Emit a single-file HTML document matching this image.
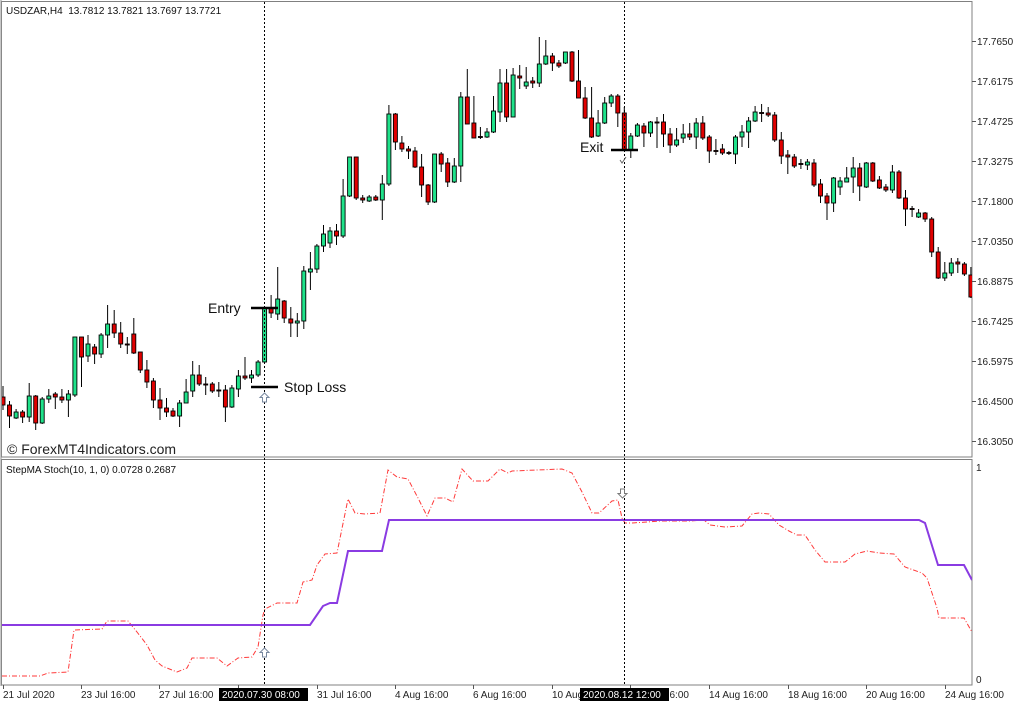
<!DOCTYPE html>
<html><head><meta charset="utf-8"><style>
html,body{margin:0;padding:0;background:#fff;}
svg{display:block;}
text{font-family:"Liberation Sans",sans-serif;}
.u{fill:#1fe28a;stroke:#000;stroke-width:0.9}
.d{fill:#e00000;stroke:#000;stroke-width:0.9}
</style></head><body>
<svg width="1024" height="705" viewBox="0 0 1024 705" xmlns="http://www.w3.org/2000/svg">
<rect width="1024" height="705" fill="#fff"/>
<defs><clipPath id="mc"><rect x="2" y="2" width="970" height="455"/></clipPath>
<clipPath id="ic"><rect x="2" y="460" width="970" height="225"/></clipPath></defs>

<!-- frames -->
<rect x="1.5" y="1.5" width="970.5" height="455.5" fill="none" stroke="#808080" stroke-width="1"/>
<rect x="1.5" y="459.5" width="970.5" height="225.5" fill="none" stroke="#808080" stroke-width="1"/>
<line x1="1" y1="0" x2="1" y2="686" stroke="#909090" stroke-width="1"/>

<!-- price axis -->
<g stroke="#555" stroke-width="1">
<line x1="972" y1="41.5" x2="976" y2="41.5"/><line x1="972" y1="81.5" x2="976" y2="81.5"/><line x1="972" y1="121.5" x2="976" y2="121.5"/><line x1="972" y1="161.5" x2="976" y2="161.5"/><line x1="972" y1="201.5" x2="976" y2="201.5"/><line x1="972" y1="241.5" x2="976" y2="241.5"/><line x1="972" y1="281.5" x2="976" y2="281.5"/><line x1="972" y1="321.5" x2="976" y2="321.5"/><line x1="972" y1="361.5" x2="976" y2="361.5"/><line x1="972" y1="401.5" x2="976" y2="401.5"/><line x1="972" y1="441.5" x2="976" y2="441.5"/>
</g>
<g font-size="10" fill="#222">
<text x="977" y="45">17.7650</text><text x="977" y="85">17.6175</text><text x="977" y="125">17.4725</text><text x="977" y="165">17.3275</text><text x="977" y="205">17.1800</text><text x="977" y="245">17.0350</text><text x="977" y="285">16.8875</text><text x="977" y="325">16.7425</text><text x="977" y="365">16.5975</text><text x="977" y="405">16.4500</text><text x="977" y="445">16.3050</text>
<text x="976" y="471">1</text><text x="976" y="683">0</text>
</g>

<!-- time axis -->
<g stroke="#555" stroke-width="1">
<line x1="3.5" y1="685" x2="3.5" y2="689"/><line x1="81.5" y1="685" x2="81.5" y2="689"/><line x1="159.5" y1="685" x2="159.5" y2="689"/><line x1="238.5" y1="685" x2="238.5" y2="689"/><line x1="317.5" y1="685" x2="317.5" y2="689"/><line x1="395.5" y1="685" x2="395.5" y2="689"/><line x1="473.5" y1="685" x2="473.5" y2="689"/><line x1="552.5" y1="685" x2="552.5" y2="689"/><line x1="630.5" y1="685" x2="630.5" y2="689"/><line x1="709.5" y1="685" x2="709.5" y2="689"/><line x1="788.5" y1="685" x2="788.5" y2="689"/><line x1="866.5" y1="685" x2="866.5" y2="689"/><line x1="945.5" y1="685" x2="945.5" y2="689"/>
</g>
<g font-size="10" fill="#222">
<text x="3" y="698">21 Jul 2020</text><text x="81" y="698">23 Jul 16:00</text><text x="159" y="698">27 Jul 16:00</text><text x="238" y="698">29 Jul 16:00</text><text x="317" y="698">31 Jul 16:00</text><text x="395" y="698">4 Aug 16:00</text><text x="473" y="698">6 Aug 16:00</text><text x="552" y="698">10 Aug 16:00</text><text x="630" y="698">12 Aug 16:00</text><text x="709" y="698">14 Aug 16:00</text><text x="788" y="698">18 Aug 16:00</text><text x="866" y="698">20 Aug 16:00</text><text x="945" y="698">24 Aug 16:00</text>
</g>
<rect x="219" y="688" width="89" height="13" fill="#000"/>
<text x="222" y="698" font-size="10" fill="#fff">2020.07.30 08:00</text>
<rect x="580" y="688" width="89" height="13" fill="#000"/>
<text x="583" y="698" font-size="10" fill="#fff">2020.08.12 12:00</text>

<!-- header texts -->
<text x="6" y="14" font-size="10" fill="#111">USDZAR,H4&#160; 13.7812 13.7821 13.7697 13.7721</text>
<text x="6" y="473" font-size="10" fill="#111">StepMA Stoch(10, 1, 0) 0.0728 0.2687</text>

<!-- candles -->
<g clip-path="url(#mc)">
<g stroke="#000" stroke-width="1">
<line x1="3.0" y1="386" x2="3.0" y2="410"/><line x1="9.5" y1="401" x2="9.5" y2="428"/><line x1="16.1" y1="409" x2="16.1" y2="419"/><line x1="22.6" y1="410" x2="22.6" y2="423"/><line x1="29.2" y1="383" x2="29.2" y2="422"/><line x1="35.7" y1="395" x2="35.7" y2="430"/><line x1="42.2" y1="397" x2="42.2" y2="424"/><line x1="48.8" y1="389" x2="48.8" y2="403"/><line x1="55.3" y1="392" x2="55.3" y2="409"/><line x1="61.9" y1="389" x2="61.9" y2="403"/>
<line x1="68.4" y1="390" x2="68.4" y2="417"/><line x1="74.9" y1="337" x2="74.9" y2="397"/><line x1="81.5" y1="337" x2="81.5" y2="387"/><line x1="88.0" y1="335" x2="88.0" y2="362"/><line x1="94.6" y1="344" x2="94.6" y2="364"/><line x1="101.1" y1="333" x2="101.1" y2="358"/><line x1="107.6" y1="305" x2="107.6" y2="348"/><line x1="114.2" y1="310" x2="114.2" y2="338"/><line x1="120.7" y1="322" x2="120.7" y2="348"/><line x1="127.3" y1="337" x2="127.3" y2="354"/>
<line x1="133.8" y1="318" x2="133.8" y2="354"/><line x1="140.3" y1="352" x2="140.3" y2="373"/><line x1="146.9" y1="360" x2="146.9" y2="388"/><line x1="153.4" y1="378" x2="153.4" y2="408"/><line x1="160.0" y1="388" x2="160.0" y2="420"/><line x1="166.5" y1="398" x2="166.5" y2="417"/><line x1="173.0" y1="408" x2="173.0" y2="417"/><line x1="179.6" y1="400" x2="179.6" y2="427"/><line x1="186.1" y1="379" x2="186.1" y2="403"/><line x1="192.7" y1="361" x2="192.7" y2="397"/>
<line x1="199.2" y1="365" x2="199.2" y2="386"/><line x1="205.7" y1="377" x2="205.7" y2="395"/><line x1="212.3" y1="382" x2="212.3" y2="393"/><line x1="218.8" y1="382" x2="218.8" y2="397"/><line x1="225.4" y1="385" x2="225.4" y2="422"/><line x1="231.9" y1="385" x2="231.9" y2="408"/><line x1="238.4" y1="370" x2="238.4" y2="397"/><line x1="245.0" y1="357" x2="245.0" y2="380"/><line x1="251.5" y1="370" x2="251.5" y2="383"/><line x1="258.1" y1="360" x2="258.1" y2="377"/>
<line x1="264.6" y1="307" x2="264.6" y2="363"/><line x1="271.1" y1="295" x2="271.1" y2="318"/><line x1="277.7" y1="267" x2="277.7" y2="320"/><line x1="284.2" y1="300" x2="284.2" y2="323"/><line x1="290.8" y1="307" x2="290.8" y2="337"/><line x1="297.3" y1="313" x2="297.3" y2="337"/><line x1="303.8" y1="266" x2="303.8" y2="329"/><line x1="310.4" y1="252" x2="310.4" y2="290"/><line x1="316.9" y1="244" x2="316.9" y2="273"/><line x1="323.5" y1="225" x2="323.5" y2="252"/>
<line x1="330.0" y1="227" x2="330.0" y2="248"/><line x1="336.5" y1="224" x2="336.5" y2="245"/><line x1="343.1" y1="179" x2="343.1" y2="238"/><line x1="349.6" y1="157" x2="349.6" y2="197"/><line x1="356.2" y1="157" x2="356.2" y2="200"/><line x1="362.7" y1="195" x2="362.7" y2="203"/><line x1="369.2" y1="195" x2="369.2" y2="202"/><line x1="375.8" y1="195" x2="375.8" y2="201"/><line x1="382.3" y1="175" x2="382.3" y2="220"/><line x1="388.9" y1="105" x2="388.9" y2="186"/>
<line x1="395.4" y1="113" x2="395.4" y2="150"/><line x1="401.9" y1="136" x2="401.9" y2="152"/><line x1="408.5" y1="146" x2="408.5" y2="159"/><line x1="415.0" y1="147" x2="415.0" y2="168"/><line x1="421.6" y1="154" x2="421.6" y2="197"/><line x1="428.1" y1="184" x2="428.1" y2="205"/><line x1="434.6" y1="154" x2="434.6" y2="203"/><line x1="441.2" y1="152" x2="441.2" y2="172"/><line x1="447.7" y1="158" x2="447.7" y2="187"/><line x1="454.3" y1="158" x2="454.3" y2="183"/>
<line x1="460.8" y1="92" x2="460.8" y2="182"/><line x1="467.3" y1="69" x2="467.3" y2="124"/><line x1="473.9" y1="96" x2="473.9" y2="138"/><line x1="480.4" y1="127" x2="480.4" y2="139"/><line x1="487.0" y1="128" x2="487.0" y2="138"/><line x1="493.5" y1="96" x2="493.5" y2="133"/><line x1="500.0" y1="69" x2="500.0" y2="122"/><line x1="506.6" y1="69" x2="506.6" y2="122"/><line x1="513.1" y1="68" x2="513.1" y2="117"/><line x1="519.7" y1="65" x2="519.7" y2="89"/>
<line x1="526.2" y1="67" x2="526.2" y2="89"/><line x1="532.7" y1="77" x2="532.7" y2="88"/><line x1="539.3" y1="37" x2="539.3" y2="87"/><line x1="545.8" y1="40" x2="545.8" y2="65"/><line x1="552.4" y1="53" x2="552.4" y2="71"/><line x1="558.9" y1="60" x2="558.9" y2="68"/><line x1="565.4" y1="52" x2="565.4" y2="64"/><line x1="572.0" y1="51" x2="572.0" y2="82"/><line x1="578.5" y1="50" x2="578.5" y2="98"/><line x1="585.1" y1="87" x2="585.1" y2="119"/>
<line x1="591.6" y1="87" x2="591.6" y2="138"/><line x1="598.1" y1="110" x2="598.1" y2="137"/><line x1="604.7" y1="97" x2="604.7" y2="124"/><line x1="611.2" y1="94" x2="611.2" y2="107"/><line x1="617.8" y1="94" x2="617.8" y2="127"/><line x1="624.3" y1="107" x2="624.3" y2="150"/><line x1="630.8" y1="133" x2="630.8" y2="158"/><line x1="637.4" y1="123" x2="637.4" y2="137"/><line x1="643.9" y1="123" x2="643.9" y2="147"/><line x1="650.5" y1="121" x2="650.5" y2="137"/>
<line x1="657.0" y1="117" x2="657.0" y2="148"/><line x1="663.5" y1="114" x2="663.5" y2="147"/><line x1="670.1" y1="128" x2="670.1" y2="153"/><line x1="676.6" y1="128" x2="676.6" y2="147"/><line x1="683.2" y1="124" x2="683.2" y2="143"/><line x1="689.7" y1="123" x2="689.7" y2="140"/><line x1="696.2" y1="118" x2="696.2" y2="149"/><line x1="702.8" y1="116" x2="702.8" y2="140"/><line x1="709.3" y1="135" x2="709.3" y2="163"/><line x1="715.9" y1="139" x2="715.9" y2="155"/>
<line x1="722.4" y1="144" x2="722.4" y2="155"/><line x1="728.9" y1="151" x2="728.9" y2="155"/><line x1="735.5" y1="135" x2="735.5" y2="164"/><line x1="742.0" y1="125" x2="742.0" y2="147"/><line x1="748.6" y1="117" x2="748.6" y2="148"/><line x1="755.1" y1="106" x2="755.1" y2="122"/><line x1="761.6" y1="104" x2="761.6" y2="122"/><line x1="768.2" y1="107" x2="768.2" y2="117"/><line x1="774.7" y1="112" x2="774.7" y2="142"/><line x1="781.3" y1="132" x2="781.3" y2="164"/>
<line x1="787.8" y1="150" x2="787.8" y2="174"/><line x1="794.3" y1="154" x2="794.3" y2="168"/><line x1="800.9" y1="159" x2="800.9" y2="169"/><line x1="807.4" y1="159" x2="807.4" y2="170"/><line x1="814.0" y1="159" x2="814.0" y2="187"/><line x1="820.5" y1="179" x2="820.5" y2="203"/><line x1="827.0" y1="193" x2="827.0" y2="220"/><line x1="833.6" y1="177" x2="833.6" y2="212"/><line x1="840.1" y1="177" x2="840.1" y2="195"/><line x1="846.7" y1="167" x2="846.7" y2="182"/>
<line x1="853.2" y1="157" x2="853.2" y2="193"/><line x1="859.7" y1="163" x2="859.7" y2="201"/><line x1="866.3" y1="162" x2="866.3" y2="188"/><line x1="872.8" y1="162" x2="872.8" y2="182"/><line x1="879.4" y1="176" x2="879.4" y2="189"/><line x1="885.9" y1="184" x2="885.9" y2="192"/><line x1="892.4" y1="165" x2="892.4" y2="193"/><line x1="899.0" y1="170" x2="899.0" y2="199"/><line x1="905.5" y1="190" x2="905.5" y2="226"/><line x1="912.1" y1="206" x2="912.1" y2="217"/>
<line x1="918.6" y1="209" x2="918.6" y2="218"/><line x1="925.1" y1="212" x2="925.1" y2="222"/><line x1="931.7" y1="217" x2="931.7" y2="257"/><line x1="938.2" y1="247" x2="938.2" y2="279"/><line x1="944.8" y1="262" x2="944.8" y2="281"/><line x1="951.3" y1="258" x2="951.3" y2="276"/><line x1="957.8" y1="258" x2="957.8" y2="273"/><line x1="964.4" y1="262" x2="964.4" y2="276"/><line x1="970.9" y1="267" x2="970.9" y2="298"/>
</g>
<g>
<rect class="d" x="1.0" y="397" width="4" height="8"/><rect class="d" x="7.5" y="405" width="4" height="11"/><rect class="u" x="14.1" y="412" width="4" height="6"/><rect class="d" x="20.6" y="412" width="4" height="5"/><rect class="u" x="27.2" y="396" width="4" height="21"/><rect class="d" x="33.7" y="396" width="4" height="27"/><rect class="u" x="40.2" y="399" width="4" height="24"/><rect class="u" x="46.8" y="396" width="4" height="3"/><rect class="d" x="53.3" y="394" width="4" height="3"/><rect class="d" x="59.9" y="397" width="4" height="3"/>
<rect class="u" x="66.4" y="394" width="4" height="6"/><rect class="u" x="72.9" y="337" width="4" height="58"/><rect class="d" x="79.5" y="337" width="4" height="20"/><rect class="u" x="86.0" y="344" width="4" height="12"/><rect class="d" x="92.6" y="347" width="4" height="7"/><rect class="u" x="99.1" y="335" width="4" height="19"/><rect class="u" x="105.6" y="324" width="4" height="11"/><rect class="d" x="112.2" y="324" width="4" height="9"/><rect class="d" x="118.7" y="333" width="4" height="11"/><rect class="d" x="125.3" y="344" width="4" height="1"/>
<rect class="d" x="131.8" y="334" width="4" height="19"/><rect class="d" x="138.3" y="352" width="4" height="18"/><rect class="d" x="144.9" y="370" width="4" height="12"/><rect class="d" x="151.4" y="381" width="4" height="19"/><rect class="d" x="158.0" y="400" width="4" height="8"/><rect class="d" x="164.5" y="408" width="4" height="4"/><rect class="d" x="171.0" y="411" width="4" height="5"/><rect class="u" x="177.6" y="403" width="4" height="13"/><rect class="u" x="184.1" y="392" width="4" height="11"/><rect class="u" x="190.7" y="375" width="4" height="16"/>
<rect class="d" x="197.2" y="375" width="4" height="9"/><rect class="d" x="203.7" y="384" width="4" height="1"/><rect class="d" x="210.3" y="384" width="4" height="7"/><rect class="d" x="216.8" y="390" width="4" height="1"/><rect class="d" x="223.4" y="390" width="4" height="17"/><rect class="u" x="229.9" y="388" width="4" height="19"/><rect class="u" x="236.4" y="376" width="4" height="13"/><rect class="d" x="243.0" y="376" width="4" height="2"/><rect class="u" x="249.5" y="375" width="4" height="3"/><rect class="u" x="256.1" y="362" width="4" height="13"/>
<rect class="u" x="262.6" y="308" width="4" height="54"/><rect class="d" x="269.1" y="308" width="4" height="5"/><rect class="u" x="275.7" y="299" width="4" height="15"/><rect class="d" x="282.2" y="301" width="4" height="17"/><rect class="d" x="288.8" y="319" width="4" height="4"/><rect class="u" x="295.3" y="321" width="4" height="2"/><rect class="u" x="301.8" y="271" width="4" height="50"/><rect class="u" x="308.4" y="269" width="4" height="3"/><rect class="u" x="314.9" y="246" width="4" height="23"/><rect class="u" x="321.5" y="234" width="4" height="12"/>
<rect class="u" x="328.0" y="231" width="4" height="12"/><rect class="d" x="334.5" y="231" width="4" height="5"/><rect class="u" x="341.1" y="196" width="4" height="40"/><rect class="u" x="347.6" y="157" width="4" height="39"/><rect class="d" x="354.2" y="157" width="4" height="41"/><rect class="d" x="360.7" y="198" width="4" height="2"/><rect class="u" x="367.2" y="197" width="4" height="4"/><rect class="d" x="373.8" y="197" width="4" height="3"/><rect class="u" x="380.3" y="184" width="4" height="16"/><rect class="u" x="386.9" y="114" width="4" height="70"/>
<rect class="d" x="393.4" y="114" width="4" height="28"/><rect class="d" x="399.9" y="143" width="4" height="6"/><rect class="d" x="406.5" y="149" width="4" height="2"/><rect class="d" x="413.0" y="151" width="4" height="16"/><rect class="d" x="419.6" y="167" width="4" height="18"/><rect class="d" x="426.1" y="185" width="4" height="17"/><rect class="u" x="432.6" y="154" width="4" height="48"/><rect class="d" x="439.2" y="154" width="4" height="10"/><rect class="d" x="445.7" y="163" width="4" height="19"/><rect class="u" x="452.3" y="166" width="4" height="16"/>
<rect class="u" x="458.8" y="97" width="4" height="69"/><rect class="d" x="465.3" y="97" width="4" height="27"/><rect class="d" x="471.9" y="123" width="4" height="15"/><rect class="d" x="478.4" y="136.5" width="4" height="1"/><rect class="u" x="485.0" y="132" width="4" height="5"/><rect class="u" x="491.5" y="111" width="4" height="21"/><rect class="u" x="498.0" y="83" width="4" height="29"/><rect class="d" x="504.6" y="83" width="4" height="34"/><rect class="u" x="511.1" y="75" width="4" height="42"/><rect class="d" x="517.7" y="76" width="4" height="2"/>
<rect class="u" x="524.2" y="82" width="4" height="4"/><rect class="d" x="530.7" y="81" width="4" height="2"/><rect class="u" x="537.3" y="64" width="4" height="19"/><rect class="u" x="543.8" y="56" width="4" height="8"/><rect class="d" x="550.4" y="56" width="4" height="7"/><rect class="d" x="556.9" y="63" width="4" height="3"/><rect class="u" x="563.4" y="52" width="4" height="11"/><rect class="d" x="570.0" y="52" width="4" height="29"/><rect class="d" x="576.5" y="81" width="4" height="17"/><rect class="d" x="583.1" y="98" width="4" height="20"/>
<rect class="d" x="589.6" y="118" width="4" height="19"/><rect class="u" x="596.1" y="123" width="4" height="13"/><rect class="u" x="602.7" y="103" width="4" height="20"/><rect class="u" x="609.2" y="96" width="4" height="7"/><rect class="d" x="615.8" y="96" width="4" height="17"/><rect class="d" x="622.3" y="113" width="4" height="37"/><rect class="u" x="628.8" y="136" width="4" height="14"/><rect class="u" x="635.4" y="125" width="4" height="11"/><rect class="d" x="641.9" y="126" width="4" height="7"/><rect class="u" x="648.5" y="122" width="4" height="11"/>
<rect class="d" x="655.0" y="122" width="4" height="1"/><rect class="d" x="661.5" y="122" width="4" height="12"/><rect class="d" x="668.1" y="134" width="4" height="11"/><rect class="u" x="674.6" y="140" width="4" height="5"/><rect class="u" x="681.2" y="134" width="4" height="4"/><rect class="d" x="687.7" y="134" width="4" height="3"/><rect class="u" x="694.2" y="123" width="4" height="14"/><rect class="d" x="700.8" y="123" width="4" height="15"/><rect class="d" x="707.3" y="137" width="4" height="14"/><rect class="d" x="713.9" y="150.5" width="4" height="1"/>
<rect class="d" x="720.4" y="149" width="4" height="4"/><rect class="d" x="726.9" y="152.5" width="4" height="1"/><rect class="u" x="733.5" y="137" width="4" height="17"/><rect class="u" x="740.0" y="132" width="4" height="5"/><rect class="u" x="746.6" y="121" width="4" height="11"/><rect class="u" x="753.1" y="112" width="4" height="9"/><rect class="d" x="759.6" y="112.5" width="4" height="1"/><rect class="d" x="766.2" y="113" width="4" height="2"/><rect class="d" x="772.7" y="115" width="4" height="25"/><rect class="d" x="779.3" y="140" width="4" height="16"/>
<rect class="d" x="785.8" y="155" width="4" height="2"/><rect class="d" x="792.3" y="157" width="4" height="9"/><rect class="d" x="798.9" y="163.5" width="4" height="1"/><rect class="u" x="805.4" y="162" width="4" height="3"/><rect class="d" x="812.0" y="163" width="4" height="22"/><rect class="d" x="818.5" y="184" width="4" height="12"/><rect class="d" x="825.0" y="196" width="4" height="7"/><rect class="u" x="831.6" y="178" width="4" height="25"/><rect class="u" x="838.1" y="181" width="4" height="6"/><rect class="u" x="844.7" y="178" width="4" height="4"/>
<rect class="u" x="851.2" y="168" width="4" height="9"/><rect class="d" x="857.7" y="168" width="4" height="18"/><rect class="u" x="864.3" y="163" width="4" height="24"/><rect class="d" x="870.8" y="163" width="4" height="18"/><rect class="d" x="877.4" y="180" width="4" height="8"/><rect class="d" x="883.9" y="187" width="4" height="3"/><rect class="u" x="890.4" y="172" width="4" height="18"/><rect class="d" x="897.0" y="172" width="4" height="26"/><rect class="d" x="903.5" y="198" width="4" height="11"/><rect class="d" x="910.1" y="208.5" width="4" height="1"/>
<rect class="u" x="916.6" y="213" width="4" height="4"/><rect class="d" x="923.1" y="213" width="4" height="6"/><rect class="d" x="929.7" y="219" width="4" height="33"/><rect class="d" x="936.2" y="252" width="4" height="26"/><rect class="u" x="942.8" y="273" width="4" height="5"/><rect class="u" x="949.3" y="263" width="4" height="10"/><rect class="d" x="955.8" y="262" width="4" height="2"/><rect class="d" x="962.4" y="264" width="4" height="10"/><rect class="d" x="968.9" y="275" width="4" height="22"/>
</g>
</g>

<!-- indicator lines -->
<g clip-path="url(#ic)">
<polyline fill="none" stroke="#ff3a3a" stroke-width="1" stroke-dasharray="5 2 1 2" points="2,676 40,676 48,673 68,672 74,630 102,629 107,621 128,621 137,632 147,645 155,660 162,666 177,672 187,668 192,658 217,658 227,666 238,658 252,657 258,647 263,615 265,609 277,603 297,603 303,582 312,580 317,565 325,554 337,553 348,499 355,513 365,514 380,513 388,470 397,477 408,479 418,498 427,516 435,498 445,498 453,502 462,469 473,481 488,481 500,469 508,473 512,471 562,469 572,473 582,492 592,513 599,513 612,501 618,500 622,518 625,523 632,523 647,522 660,521 690,521 704,520 710,525 725,527 742,526 752,514 759,513 769,514 779,525 789,531 797,535 805,535 815,550 825,562 845,562 855,554 867,551 879,553 894,554 905,567 922,573 927,578 937,608 939,618 964,618 972,632"/>
<polyline fill="none" stroke="#8a3be2" stroke-width="2" points="2,625 310,625 323,606 330,603 337,603 348,551 382,551 389,520 919,520 925,523 938,565 964,565 972,580"/>
</g>

<!-- vertical dashed lines -->
<line x1="264.5" y1="2" x2="264.5" y2="686" stroke="#000" stroke-width="1" stroke-dasharray="2 2"/>
<line x1="624.5" y1="2" x2="624.5" y2="686" stroke="#000" stroke-width="1" stroke-dasharray="2 2"/>

<!-- annotations -->
<line x1="251" y1="308" x2="278" y2="308" stroke="#000" stroke-width="2.5"/>
<text x="208" y="313" font-size="14" fill="#111">Entry</text>
<line x1="251" y1="387" x2="278" y2="387" stroke="#000" stroke-width="2.5"/>
<text x="284" y="392" font-size="14" fill="#111">Stop Loss</text>
<line x1="611" y1="150" x2="638" y2="150" stroke="#000" stroke-width="2.5"/>
<text x="580" y="152" font-size="14" fill="#111">Exit</text>
<text x="7" y="454" font-size="14" fill="#222">© ForexMT4Indicators.com</text>

<!-- arrows -->
<polygon points="264.5,393 269,397.5 266.5,397.5 266.5,402 262.5,402 262.5,397.5 260,397.5" fill="#fff" stroke="#7a8aa0" stroke-width="1"/>
<path d="M620,160 L622,163 L626,157" fill="none" stroke="#666" stroke-width="1"/>
<polygon points="264.5,648 269,652.5 266.5,652.5 266.5,657 262.5,657 262.5,652.5 260,652.5" fill="#fff" stroke="#7a8aa0" stroke-width="1"/>
<polygon points="622.5,498 618,493.5 620.5,493.5 620.5,489 624.5,489 624.5,493.5 627,493.5" fill="#fff" stroke="#7a7a7a" stroke-width="1"/>
</svg>
</body></html>
